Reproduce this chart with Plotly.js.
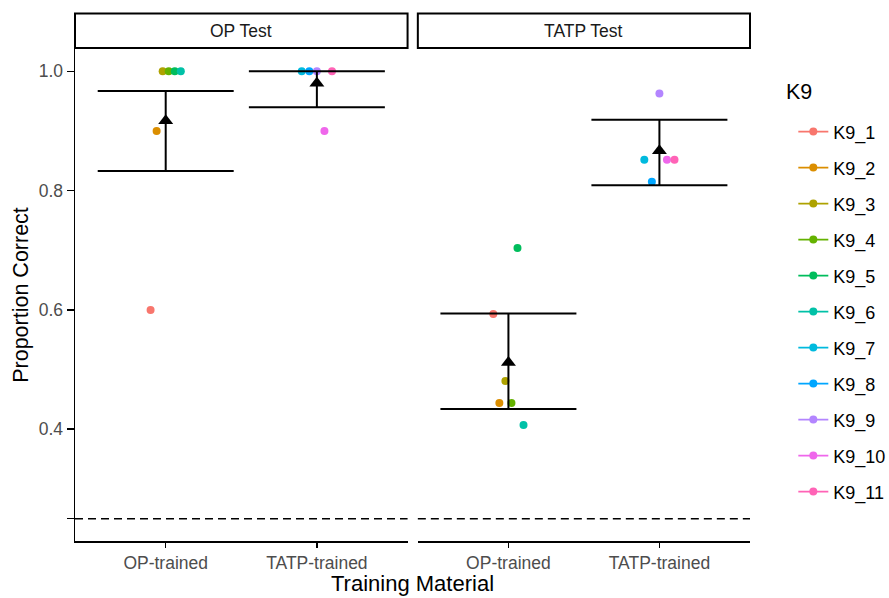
<!DOCTYPE html>
<html><head><meta charset="utf-8">
<script src="https://cdn.plot.ly/plotly-3.0.1.min.js"></script>
<style>html,body{margin:0;padding:0;background:#fff}#chart{width:889px;height:598px}</style>
</head><body><div id="chart"></div>
<script>
// ---------------- data ----------------
const panels = ['OP Test', 'TATP Test'];
const trainingCats = ['OP-trained', 'TATP-trained'];
const dogs = ['K9_1','K9_2','K9_3','K9_4','K9_5','K9_6','K9_7','K9_8','K9_9','K9_10','K9_11'];
const dogTraining = ['OP-trained','OP-trained','OP-trained','OP-trained','OP-trained','OP-trained',
                     'TATP-trained','TATP-trained','TATP-trained','TATP-trained','TATP-trained'];
const opTestScores   = [0.600, 0.900, 1.000, 1.000, 1.000, 1.000, 1.000, 1.000, 1.000, 0.900, 1.000];
const tatpTestScores = [0.593, 0.444, 0.481, 0.444, 0.704, 0.407, 0.852, 0.815, 0.963, 0.852, 0.852];
const opTestMean   = [0.917, 0.980];
const opTestLower  = [0.833, 0.940];
const opTestUpper  = [0.967, 1.000];
const tatpTestMean  = [0.512, 0.867];
const tatpTestLower = [0.434, 0.809];
const tatpTestUpper = [0.594, 0.919];
const chanceLevel = 0.25;
const yTickVals = [0.25, 0.4, 0.6, 0.8, 1.0];
const yTickText = ['', '0.4', '0.6', '0.8', '1.0'];

// ---------------- style ----------------
const palette = ['#F8766D','#DB8E00','#AEA200','#64B200','#00BD5C','#00C1A7','#00BADE','#00A6FF','#B385FF','#EF67EB','#FF63B6'];
const FONT = 'Liberation Sans, Arial, sans-serif';
const M = {l: 75, r: 139.3, t: 48.6, b: 57, autoexpand: false};
const W = 889, H = 598;
const dom1 = [0, 0.4927], dom2 = [0.5079, 1];
const xRange = [0.4, 2.6];
const plotW = W - M.l - M.r;
const unitPx = plotW * (dom1[1] - dom1[0]) / (xRange[1] - xRange[0]);
const errHalfPx = 0.45 * unitPx;
const plotH = H - M.t - M.b;
const py = px => (H - M.b - px) / plotH; // pixel y -> paper y
const pxx = px => (px - M.l) / plotW;    // pixel x -> paper x

// dodge offsets within each training group
function dodgeOffsets() {
  const off = [];
  trainingCats.forEach(cat => {
    const idx = dogs.map((d, i) => i).filter(i => dogTraining[i] === cat);
    const n = idx.length;
    idx.forEach((i, k) => { off[i] = (k - (n - 1) / 2) * (0.2 / (n - 1)); });
  });
  return off;
}
const offsets = dodgeOffsets();

const panelData = [
  {axis: 'x',  scores: opTestScores,   mean: opTestMean,   lo: opTestLower,   hi: opTestUpper},
  {axis: 'x2', scores: tatpTestScores, mean: tatpTestMean, lo: tatpTestLower, hi: tatpTestUpper}
];

const traces = [];
panelData.forEach((p, pi) => {
  dogs.forEach((d, i) => {
    traces.push({
      type: 'scatter', mode: 'lines+markers',
      x: [trainingCats.indexOf(dogTraining[i]) + 1 + offsets[i]],
      y: [p.scores[i]],
      xaxis: p.axis, yaxis: 'y',
      name: d, legendgroup: d, showlegend: pi === 0,
      marker: {color: palette[i], size: 8},
      line: {color: palette[i], width: 1.8},
      hoverinfo: 'name+y'
    });
  });
});
panelData.forEach(p => {
  traces.push({
    type: 'scatter', mode: 'markers',
    x: trainingCats.map((c, k) => k + 1),
    y: p.mean,
    xaxis: p.axis, yaxis: 'y', showlegend: false,
    marker: {symbol: 'triangle-up', size: 13, color: 'black'},
    error_y: {type: 'data', symmetric: false,
      array: p.hi.map((v, k) => v - p.mean[k]),
      arrayminus: p.lo.map((v, k) => p.mean[k] - v),
      width: errHalfPx, thickness: 2, color: 'black'}
  });
});

function xAxis(domain) {
  return {
    domain: domain, range: xRange, anchor: 'y',
    tickvals: [1, 2], ticktext: trainingCats,
    showline: true, linecolor: 'black', linewidth: 1.5,
    ticks: 'outside', ticklen: 5, tickwidth: 1.5, tickcolor: 'black',
    tickfont: {family: FONT, size: 17.5, color: '#4d4d4d'},
    showgrid: false, zeroline: false, fixedrange: true
  };
}

const shapes = [], annotations = [];
['x', 'x2'].forEach((ax, k) => {
  shapes.push({type: 'line', xref: ax + ' domain', yref: 'y', x0: 0, x1: 1, y0: chanceLevel, y1: chanceLevel,
    line: {color: 'black', width: 1.5, dash: '8px,5px'}});
  shapes.push({type: 'rect', xref: ax + ' domain', yref: 'paper', x0: 0, x1: 1, y0: py(47.5), y1: py(13),
    line: {color: 'black', width: 2}, fillcolor: 'white'});
  annotations.push({xref: ax + ' domain', yref: 'paper', x: 0.5, y: py(30.5), xanchor: 'center', yanchor: 'middle',
    text: panels[k], showarrow: false, font: {family: FONT, size: 17.5, color: '#1a1a1a'}});
});
annotations.push({xref: 'paper', yref: 'paper', x: 0.5, y: py(584), xanchor: 'center', yanchor: 'middle',
  text: 'Training Material', showarrow: false, font: {family: FONT, size: 22, color: 'black'}});
// legend title
annotations.push({xref: 'paper', yref: 'paper', x: pxx(784), y: py(92), xanchor: 'left', yanchor: 'middle',
  text: 'K9', showarrow: false, font: {family: FONT, size: 21.5, color: 'black'}});

const layout = {
  width: W, height: H, margin: M,
  paper_bgcolor: 'white', plot_bgcolor: 'white',
  font: {family: FONT, color: 'black'},
  xaxis: xAxis(dom1), xaxis2: xAxis(dom2),
  yaxis: {
    range: [0.2125, 1.0375], tickvals: yTickVals, ticktext: yTickText,
    showline: true, linecolor: 'black', linewidth: 1.5,
    ticks: 'outside', ticklen: 7, tickwidth: 1.5, tickcolor: 'black',
    tickfont: {family: FONT, size: 17.5, color: '#4d4d4d'},
    showgrid: false, zeroline: false, fixedrange: true,
    title: {text: 'Proportion Correct', font: {family: FONT, size: 21.5, color: 'black'}, standoff: 4}
  },
  showlegend: true,
  legend: {
    x: pxx(793), xanchor: 'left', y: py(113), yanchor: 'top',
    font: {family: FONT, size: 18, color: 'black'},
    tracegroupgap: 9.6, bgcolor: 'rgba(0,0,0,0)'
  },
  shapes: shapes, annotations: annotations
};

Plotly.newPlot('chart', traces, layout, {displayModeBar: false, staticPlot: true});
</script></body></html>
